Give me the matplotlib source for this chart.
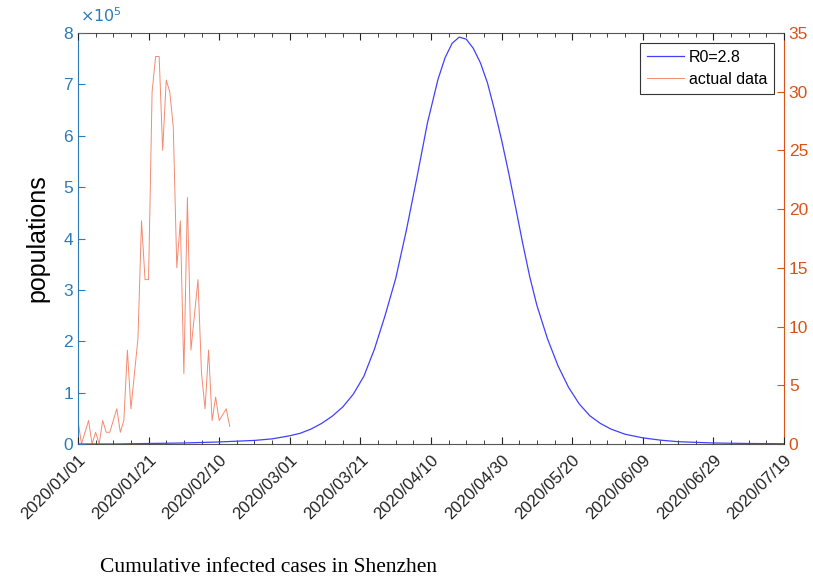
import matplotlib
matplotlib.use('Agg')
import matplotlib.pyplot as plt
import numpy as np
from datetime import date, timedelta

plt.rcParams['font.family'] = ['Liberation Sans', 'DejaVu Sans']

start = date(2020, 1, 1)

# model curve (R0=2.8), days after 2020/01/01 and populations in units of 1e5
model_days = [0, 10, 20, 30, 40, 45, 50, 55, 60, 63, 66, 69, 72, 75, 78, 81,
              84, 87, 90, 93, 96, 99, 102, 104, 106, 108, 110, 112, 114, 116,
              118, 120, 122, 124, 126, 128, 130, 133, 136, 139, 142, 145, 148,
              151, 155, 160, 165, 170, 180, 190, 200]
model_vals = [0.0, 0.0, 0.01, 0.02, 0.04, 0.055, 0.07, 0.10, 0.16, 0.21, 0.29,
              0.40, 0.54, 0.72, 0.97, 1.32, 1.85, 2.50, 3.22, 4.15, 5.18, 6.25,
              7.10, 7.52, 7.80, 7.92, 7.88, 7.70, 7.42, 7.03, 6.50, 5.92, 5.28,
              4.60, 3.90, 3.25, 2.70, 2.05, 1.52, 1.10, 0.78, 0.55, 0.40, 0.29,
              0.19, 0.12, 0.075, 0.045, 0.02, 0.01, 0.005]

# actual daily data, one value per day from 2020/01/01
actual_vals = [2, 0, 1, 2, 0, 1, 0, 2, 1, 1, 2, 3, 1, 2, 8, 3, 6, 9, 19, 14,
               14, 30, 33, 33, 25, 31, 30, 27, 15, 19, 6, 21, 8, 11, 14, 6,
               3, 8, 2, 4, 2, 2.5, 3, 1.5]

tick_days = list(range(0, 201, 20))

model_dates = [start + timedelta(days=d) for d in model_days]
actual_dates = [start + timedelta(days=i) for i in range(len(actual_vals))]
tick_dates = [start + timedelta(days=d) for d in tick_days]

blue_ax = '#2b7bba'
red_ax = '#d95319'

fig = plt.figure(figsize=(8.13, 5.82), dpi=100)
ax = fig.add_axes([0.0959, 0.2371, 0.8684, 0.7062])
ax2 = ax.twinx()

l1, = ax.plot(model_dates, np.array(model_vals) * 1e5, color='#4040ff', lw=0.9)
l2, = ax2.plot(actual_dates, actual_vals, color='#f58a70', lw=0.7)

ax.set_xlim(start, start + timedelta(days=200))
ax.set_ylim(0, 8e5)
ax2.set_ylim(0, 35)

ax.set_yticks(np.arange(0, 9) * 1e5)
ax.set_yticklabels([str(i) for i in range(9)])
ax2.set_yticks(range(0, 36, 5))

ax.set_xticks(tick_dates)
ax.set_xticklabels([d.strftime('%Y/%m/%d') for d in tick_dates],
                   rotation=45, ha='right', rotation_mode='anchor')
ax.set_xticks([start + timedelta(days=d) for d in range(0, 201, 5)], minor=True)

ax.tick_params(axis='x', which='both', direction='in', top=True,
               labelsize=12, colors='#222222', pad=6)
ax.tick_params(axis='x', which='major', length=5)
ax.tick_params(axis='x', which='minor', length=3)
ax.tick_params(axis='y', direction='in', length=5, labelsize=12.5,
               colors=blue_ax)
ax2.tick_params(axis='y', direction='in', length=5, labelsize=12.5,
                colors=red_ax)

for sp in ['top', 'bottom']:
    ax2.spines[sp].set_color('#555555')
ax2.spines['left'].set_color(blue_ax)
ax2.spines['right'].set_color(red_ax)
for sp in ax.spines.values():
    sp.set_visible(False)
for sp in ax2.spines.values():
    sp.set_linewidth(0.8)

ax.set_ylabel('populations', fontsize=18, labelpad=10)
fig.text(0.098, 0.957, r'$\times10^{5}$', color=blue_ax, fontsize=11.5,
         ha='left', va='bottom')

leg = ax.legend([l1, l2], ['R0=2.8', 'actual data'], loc='upper right',
                fontsize=11.5, fancybox=False, edgecolor='#333333',
                framealpha=1, handlelength=2.3, borderaxespad=0.6,
                handletextpad=0.3, labelspacing=0.45, borderpad=0.45)
leg.get_frame().set_linewidth(0.8)
leg.set_zorder(10)
ax.set_zorder(ax2.get_zorder() + 1)
ax.patch.set_visible(False)

fig.text(0.123, 0.008, 'Cumulative infected cases in Shenzhen',
         family='Liberation Serif', fontsize=15.5, ha='left', va='bottom')

fig.savefig('out.png', dpi=100)
